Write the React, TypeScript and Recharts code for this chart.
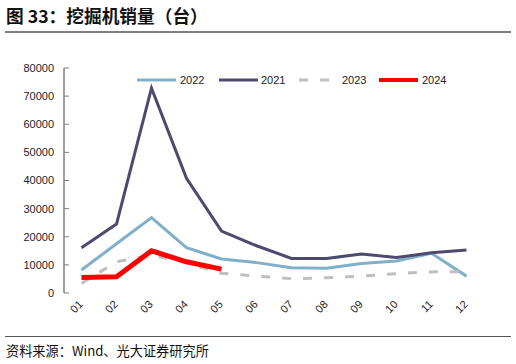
import { Line, LineChart, XAxis, YAxis } from "recharts";

const months = ["01", "02", "03", "04", "05", "06", "07", "08", "09", "10", "11", "12"];
const sales2022 = [8200, 17500, 26800, 16100, 12100, 10800, 9000, 8800, 10500, 11400, 14100, 6000];
const sales2021 = [16100, 24500, 72800, 40800, 22000, 16800, 12300, 12300, 13900, 12600, 14300, 15300];
const sales2023 = [3400, 11100, 13500, 10700, 7000, 6000, 5100, 5400, 6000, 6900, 7500, 7600];
const sales2024 = [5500, 5800, 15000, 11100, 8500];
const yTicks = [0, 10000, 20000, 30000, 40000, 50000, 60000, 70000, 80000];

const data = months.map((m, i) => ({
  x: i + 1,
  label: m,
  s2022: sales2022[i],
  s2021: sales2021[i],
  s2023: sales2023[i],
  s2024: sales2024[i] ?? null,
}));

const labelTicks = months.map((_, i) => i + 1);
const edgeTicks = [0, ...months.map((_, i) => i + 1)].map((v) => v + 0.5);

const series = [
  { key: "s2022", name: "2022", color: "#7fb0c8", width: 3, dash: undefined },
  { key: "s2021", name: "2021", color: "#4c4a6e", width: 3, dash: undefined },
  { key: "s2023", name: "2023", color: "#bfbfbf", width: 3, dash: "9 12" },
  { key: "s2024", name: "2024", color: "#ff0000", width: 5, dash: undefined },
];

const legendPos = [137, 219, 299, 379];
const textPos = [180, 261, 342, 422];

function LegendBox() {
  return (
    <svg width={516} height={20} style={{ position: "absolute", left: 0, top: 72 }}>
      {series.map((s, i) => (
        <g key={s.key}>
          <line
            x1={legendPos[i]}
            x2={legendPos[i] + (s.dash ? 30 : 39)}
            y1={8}
            y2={8}
            stroke={s.color}
            strokeWidth={s.width === 5 ? 4 : 3}
            strokeDasharray={s.dash ? "9 12" : undefined}
          />
          <text x={textPos[i]} y={12} fontSize={11} fill="#222">
            {s.name}
          </text>
        </g>
      ))}
    </svg>
  );
}

const XLabel = (props: any) => {
  const { x, y, payload } = props;
  return (
    <text
      x={x + 2}
      y={y + 4}
      transform={`rotate(-45, ${x + 2}, ${y + 4})`}
      textAnchor="end"
      fontSize={11}
      fill="#222"
    >
      {months[payload.value - 1]}
    </text>
  );
};

export default function App() {
  return (
    <div
      style={{
        position: "absolute",
        left: 0,
        top: 0,
        width: 516,
        height: 364,
        background: "#fff",
        fontFamily: "'Liberation Sans', Arial, sans-serif",
      }}
    >
      <div
        style={{
          position: "absolute",
          left: 6,
          top: 3,
          fontFamily: "'Noto Sans CJK SC', sans-serif",
          fontWeight: 700,
          fontSize: 17.7,
          color: "#111",
          lineHeight: "24px",
        }}
      >
        图 33：挖掘机销量（台）
      </div>
      <div style={{ position: "absolute", left: 5, right: 5, top: 31, height: 2, background: "#7f7f7f" }} />
      <LineChart
        width={516}
        height={364}
        data={data}
        margin={{ top: 68, right: 32, left: 14, bottom: 31 }}
      >
        <XAxis
          xAxisId="lab"
          type="number"
          dataKey="x"
          domain={[0.5, 12.5]}
          ticks={labelTicks}
          interval={0}
          axisLine={false}
          tickLine={false}
          tick={<XLabel />}
          height={40}
        />
        <XAxis
          xAxisId="edge"
          type="number"
          dataKey="x"
          domain={[0.5, 12.5]}
          ticks={edgeTicks}
          interval={0}
          axisLine={{ stroke: "#808080", strokeWidth: 1.5 }}
          tickLine={{ stroke: "#808080" }}
          tickSize={-5}
          tick={false}
          height={0}
        />
        <YAxis
          domain={[0, 80000]}
          ticks={yTicks}
          interval={0}
          width={50}
          axisLine={{ stroke: "#808080", strokeWidth: 1.5 }}
          tickLine={{ stroke: "#808080" }}
          tickSize={-5}
          tickMargin={15}
          tick={{ fontSize: 11, fill: "#222" }}
        />
        {series.map((s) => (
          <Line
            key={s.key}
            xAxisId="lab"
            dataKey={s.key}
            name={s.name}
            stroke={s.color}
            strokeWidth={s.width}
            strokeDasharray={s.dash}
            dot={false}
            activeDot={false}
            isAnimationActive={false}
            type="linear"
            strokeLinejoin="miter"
          />
        ))}
      </LineChart>
      <LegendBox />
      <div style={{ position: "absolute", left: 5, right: 5, top: 336, height: 1, background: "#555" }} />
      <div
        style={{
          position: "absolute",
          left: 6,
          top: 342,
          fontFamily: "'Noto Sans CJK SC', sans-serif",
          fontSize: 13.2,
          color: "#111",
          lineHeight: "18px",
        }}
      >
        资料来源：Wind、光大证券研究所
      </div>
    </div>
  );
}
